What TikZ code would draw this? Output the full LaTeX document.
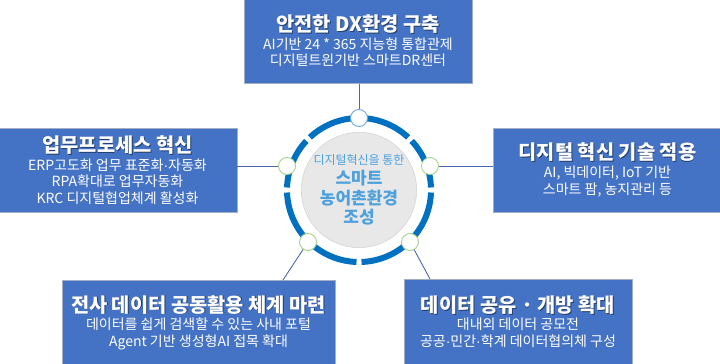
\documentclass[tikz,border=0pt]{standalone}
\usepackage{fontspec}
\setmainfont{Noto Sans CJK KR}
\newfontfamily\latinf{Liberation Sans}
\usetikzlibrary{calc}
\definecolor{boxblue}{HTML}{4472C4}
\definecolor{boxedge}{HTML}{A3AEC6}
\definecolor{ringblue}{HTML}{0070C0}
\definecolor{linkblue}{HTML}{4A68B0}
\definecolor{txtblue}{HTML}{4EA1DD}
\definecolor{dotblue}{HTML}{6FA8DC}
\definecolor{dotgreen}{HTML}{A9D18E}
\definecolor{hubfill}{HTML}{E8E8E8}
\definecolor{hubedge}{HTML}{D4D4D4}
\newcommand\md{{\latinf ·}}
\newcommand\shadowed[1]{\leavevmode\rlap{\kern0.9pt\raisebox{-0.9pt}{\textcolor{boxblue!55!black}{#1}}}#1}
\newcommand\ttl[1]{{\fontsize{19.8}{21}\selectfont\bfseries\shadowed{#1}}}
\newcommand\hubsmall[1]{{\fontsize{12}{14}\selectfont #1}}
\newcommand\hubbig[1]{{\fontsize{17}{19.5}\selectfont\bfseries #1}}
\begin{document}
\begin{tikzpicture}[x=1pt,y=-1pt,
  topicbox/.style={rectangle, fill=boxblue, draw=boxedge, line width=0.8pt, text=white,
    align=center, inner sep=0pt, font=\fontsize{14}{16.6}\selectfont},
  link/.style={draw=linkblue, line width=0.9pt},
  dot/.style={circle, fill=white, line width=0.9pt, minimum size=17pt, inner sep=0pt},
  ringarc/.style={draw=ringblue, line width=6pt},
  hubnode/.style={circle, fill=hubfill, draw=hubedge, line width=0.6pt, minimum size=114pt,
    inner sep=0pt, align=center, text=txtblue, font=\fontsize{17}{19.5}\selectfont}
]
\useasboundingbox (0,0) rectangle (720,364);

% boxes
\node[topicbox, minimum width=228pt, minimum height=85pt] (top) at (358,41)
  {\ttl{안전한 DX환경 구축}\\[1pt]AI기반 24 * 365 지능형 통합관제\\디지털트윈기반 스마트DR센터};
\node[topicbox, minimum width=239pt, minimum height=84pt] (left) at (117.5,170)
  {\ttl{업무프로세스 혁신}\\[1pt]ERP고도화 업무 표준화\md 자동화\\RPA확대로 업무자동화\\KRC 디지털협업체계 활성화};
\node[topicbox, minimum width=229pt, minimum height=84pt] (right) at (607.5,170)
  {\ttl{디지털 혁신 기술 적용}\\[1pt]AI, 빅데이터, IoT 기반\\스마트 팜, 농지관리 등};
\node[topicbox, minimum width=273pt, minimum height=85pt] (bl) at (198.5,322.5)
  {\ttl{전사 데이터 공동활용 체계 마련}\\[1pt]데이터를 쉽게 검색할 수 있는 사내 포털\\Agent 기반 생성형AI 접목 확대};
\node[topicbox, minimum width=228pt, minimum height=85pt] (br) at (518,321.5)
  {\ttl{데이터 공유 · 개방 확대}\\[1pt]대내외 데이터 공모전\\공공\md 민간\md 학계 데이터협의체 구성};

% hub
\node[hubnode] (hub) at (359,190)
  {\hubsmall{디지털혁신을 통한}\\[1pt]\hubbig{스마트}\\\hubbig{농어촌환경}\\\hubbig{조성}};

% dot positions
\coordinate (p1) at (359,118);
\coordinate (p2) at (287,166);
\coordinate (p3) at (430,166);
\coordinate (p4) at (308,242);
\coordinate (p5) at (410,242);
\coordinate (blc) at (283,280);
\coordinate (brc) at (430,279);

% connectors
\draw[link] (p1) -- (p1 |- top.south);
\draw[link] (p2) -- (p2 -| left.east);
\draw[link] (p3) -- (p3 -| right.west);
\draw[link] (p4) -- (blc);
\draw[link] (p5) -- (brc);

% ring
\foreach \k in {0,...,7}{
  \draw[ringarc] ($(hub.center)+({\k*45+2}:72)$) arc[start angle={\k*45+2}, end angle={\k*45+43}, radius=72];
}

% dots
\node[dot, draw=dotblue] (d1) at (p1) {};
\node[dot, draw=dotgreen] (d2) at (p2) {};
\node[dot, draw=dotgreen] (d3) at (p3) {};
\node[dot, draw=dotgreen] (d4) at (p4) {};
\node[dot, draw=dotgreen] (d5) at (p5) {};
\end{tikzpicture}
\end{document}
